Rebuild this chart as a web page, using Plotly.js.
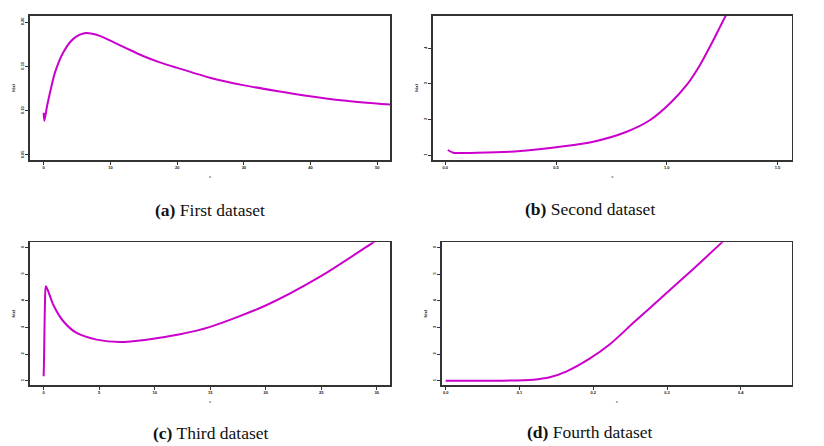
<!DOCTYPE html>
<html>
<head>
<meta charset="utf-8">
<script src="https://cdn.plot.ly/plotly-3.0.1.min.js"></script>
<style>
  body { margin: 0; background: #fff; }
  #plot { width: 824px; height: 446px; }
</style>
</head>
<body>
<div id="plot"></div>
<script>
// values (y tick labels are too small to read, so the scale is a guess)
var xA = [0, 0.1, 0.5, 0.95, 1.7, 2.95, 4.4, 6.3, 8.4, 10, 12.5, 14.9, 17.4, 19.9, 24.9, 29.9, 34.9, 39.9, 44.9, 51.9];
var yA = [0.0977, 0.0886, 0.105, 0.1205, 0.1432, 0.1659, 0.1807, 0.1875, 0.1844, 0.1790, 0.1700, 0.1617, 0.1545, 0.1485, 0.1372, 0.1288, 0.1222, 0.1163, 0.1115, 0.1068];

var xB = [0.011, 0.036, 0.142, 0.292, 0.4, 0.518, 0.668, 0.819, 0.925, 1.015, 1.09, 1.15, 1.203, 1.241, 1.267, 1.29];
var yB = [1.14, 1.065, 1.065, 1.093, 1.15, 1.233, 1.374, 1.654, 1.983, 2.452, 2.966, 3.528, 4.138, 4.604, 4.92, 5.18];

var xC = [0, 0.027, 0.117, 0.2, 0.417, 0.865, 1.77, 2.97, 4.77, 6.87, 9.28, 12.28, 15, 20.1, 24.9, 29.7, 30.5];
var yC = [1.165, 1.6, 3.85, 4.54, 4.35, 3.85, 3.23, 2.79, 2.54, 2.45, 2.54, 2.74, 3.02, 3.838, 4.9, 6.19, 6.41];

var xD = [0, 0.0736, 0.1187, 0.141, 0.164, 0.195, 0.223, 0.254, 0.299, 0.336, 0.373, 0.38];
var yD = [1.0, 1.0, 1.037, 1.127, 1.35, 1.825, 2.376, 3.16, 4.28, 5.2, 6.15, 6.33];

var xTicksA = [0, 10, 20, 30, 40, 50];
var yTicksA = [0.05, 0.10, 0.15, 0.20];
var xTicksB = [0.0, 0.5, 1.0, 1.5];
var yTicksB = [1, 2, 3, 4];
var xTicksC = [0, 5, 10, 15, 20, 25, 30];
var yTicksC = [1, 2, 3, 4, 5, 6];
var xTicksD = [0.0, 0.1, 0.2, 0.3, 0.4];
var yTicksD = [1, 2, 3, 4, 5, 6];

var captions = [
  {tag: "(a)", text: " First dataset"},
  {tag: "(b)", text: " Second dataset"},
  {tag: "(c)", text: " Third dataset"},
  {tag: "(d)", text: " Fourth dataset"}
];

var W = 824, H = 446;
var LINE_COLOR = "#cc00cc";

function px(v) { return v / W; }
function py(v) { return 1 - v / H; }

function trace(x, y, n) {
  return {
    x: x, y: y, mode: "lines", type: "scatter",
    line: {color: LINE_COLOR, width: 2, shape: "spline", smoothing: 0.8},
    xaxis: "x" + (n == 1 ? "" : n), yaxis: "y" + (n == 1 ? "" : n),
    hoverinfo: "skip", showlegend: false
  };
}

function axisBase(dom, range, ticks, dec) {
  return {
    domain: dom, range: range, tickvals: ticks,
    ticktext: ticks.map(function (t) { return t.toFixed(dec); }),
    showline: true, mirror: true, linecolor: "#333", linewidth: 1.6,
    ticks: "outside", ticklen: 3, tickwidth: 1, tickcolor: "#333",
    showgrid: false, zeroline: false,
    tickfont: {size: 4, color: "#111", family: "Liberation Sans", weight: "bold"}
  };
}

function xaxis(dom, range, ticks, dec) {
  var a = axisBase(dom, range, ticks, dec);
  a.title = {text: "x", font: {size: 4, color: "#111"}, standoff: 6};
  return a;
}

function yaxis(dom, range, ticks, dec) {
  var a = axisBase(dom, range, ticks, dec);
  a.tickangle = -90;
  a.title = {text: "h(x)", font: {size: 4, color: "#111", weight: "bold"}, standoff: 4};
  return a;
}

var data = [trace(xA, yA, 1), trace(xB, yB, 2), trace(xC, yC, 3), trace(xD, yD, 4)];

var capPos = [[210, 210], [590, 209], [210, 433], [590, 432]];
var annotations = captions.map(function (c, i) {
  return {
    xref: "paper", yref: "paper",
    x: px(capPos[i][0]), y: py(capPos[i][1]),
    xanchor: "center", yanchor: "middle", showarrow: false,
    text: "<b>" + c.tag + "</b>" + c.text,
    font: {family: "Liberation Serif", size: 17.5, color: "#111"}
  };
});

var layout = {
  width: W, height: H,
  margin: {l: 0, r: 0, t: 0, b: 0},
  paper_bgcolor: "#fff", plot_bgcolor: "#fff",
  xaxis:  xaxis([px(30), px(390)], [-2.05, 51.9], xTicksA, 0),
  yaxis:  yaxis([py(160), py(16)], [0.0443, 0.2068], yTicksA, 2),
  xaxis2: xaxis([px(432.7), px(791.7)], [-0.057, 1.564], xTicksB, 1),
  yaxis2: yaxis([py(160), py(15.7)], [0.86, 4.91], yTicksB, 0),
  xaxis3: xaxis([px(30), px(390)], [-1.23, 31.2], xTicksC, 0),
  yaxis3: yaxis([py(385), py(242.3)], [0.839, 6.19], yTicksC, 0),
  xaxis4: xaxis([px(441.7), px(791.7)], [-0.0054, 0.469], xTicksD, 1),
  yaxis4: yaxis([py(385), py(242.3)], [0.839, 6.19], yTicksD, 0),
  annotations: annotations
};

layout.yaxis2.anchor = "x2"; layout.xaxis2.anchor = "y2";
layout.yaxis3.anchor = "x3"; layout.xaxis3.anchor = "y3";
layout.yaxis4.anchor = "x4"; layout.xaxis4.anchor = "y4";

Plotly.newPlot("plot", data, layout, {staticPlot: true, displayModeBar: false});
</script>
</body>
</html>
